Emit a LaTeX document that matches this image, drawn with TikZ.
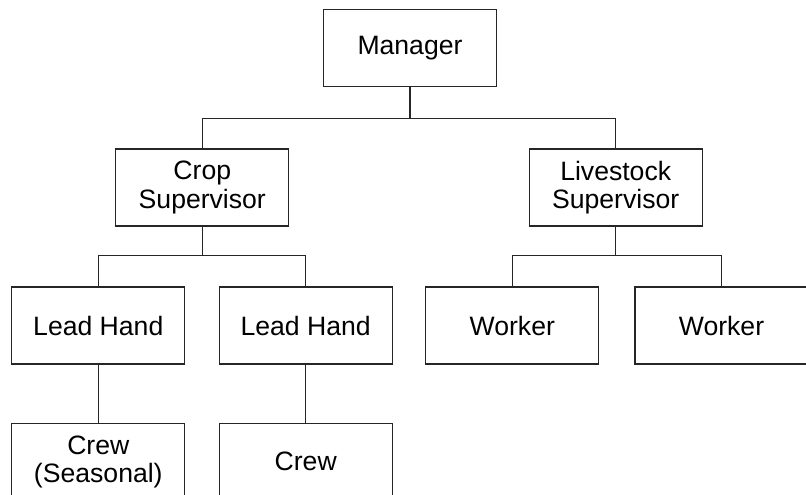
\documentclass[tikz,border=0pt]{standalone}
\usepackage{fontspec}
\setmainfont{Liberation Sans}
\usetikzlibrary{calc}
\begin{document}
\begin{tikzpicture}[x=1pt,y=1pt,
  box/.style={draw=black!85, line width=1.2pt, minimum width=173pt, minimum height=77pt,
    inner sep=0pt, align=center, font=\fontsize{26.6}{28.3}\selectfont, text=black},
  conn/.style={draw=black!85, line width=1.2pt}]
\useasboundingbox (0,0) rectangle (806,-495);
\clip (0,0) rectangle (806,-495);
\node[box] (mgr) at (410,-47.7) {Manager};
\node[box] (crop) at (202.3,-187.5) {Crop\\Supervisor};
\node[box] (live) at (615.7,-187.5) {Livestock\\Supervisor};
\node[box] (lh1) at (98.3,-325.5) {Lead Hand};
\node[box] (lh2) at (305.7,-325.5) {Lead Hand};
\node[box] (w1) at (512.3,-325.5) {Worker};
\node[box] (w2) at (721.5,-325.5) {Worker};
\node[box] (cs) at (98.3,-461.8) {Crew\\(Seasonal)};
\node[box] (cr) at (305.7,-461.8) {Crew};
\coordinate (b1) at ($(mgr.south)+(0,-32)$);
\coordinate (b2) at ($(crop.south)+(0,-29)$);
\coordinate (b3) at ($(live.south)+(0,-29)$);
\draw[conn] (mgr.south) -- (b1);
\draw[conn] (crop.north) |- (b1) -| (live.north);
\draw[conn] (crop.south) -- (b2);
\draw[conn] (lh1.north) |- (b2) -| (lh2.north);
\draw[conn] (live.south) -- (b3);
\draw[conn] (w1.north) |- (b3) -| (w2.north);
\draw[conn] (lh1.south) -- (cs.north);
\draw[conn] (lh2.south) -- (cr.north);
\end{tikzpicture}
\end{document}
